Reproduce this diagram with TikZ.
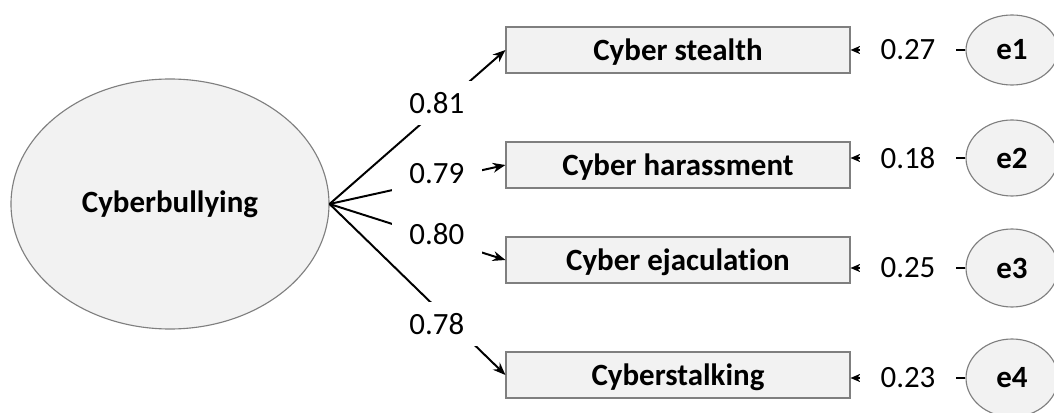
\documentclass[tikz,border=0pt]{standalone}
\usepackage{fontspec}
\setmainfont{Carlito}[Ligatures=NoCommon]
\usetikzlibrary{shapes.geometric, arrows, arrows.meta, positioning}

\definecolor{shade}{HTML}{F2F2F2}
\definecolor{edge}{HTML}{7F7F7F}

\begin{document}
\begin{tikzpicture}
        \tikzstyle{latent} = [ellipse, draw=edge, line width=0.8pt, fill=shade, text centered, font=\fontsize{22}{26}\selectfont\bfseries, inner sep=0pt]
        \tikzstyle{box} = [rectangle, draw=edge, line width=0.8pt, fill=shade, text centered, minimum height=1.15cm, minimum width=8.6cm, font=\fontsize{22}{26}\selectfont\bfseries, text depth=0pt]
        \tikzstyle{lab} = [fill=white, inner sep=0pt, minimum width=2.25cm, minimum height=1.1cm, font=\fontsize{22}{26}\selectfont]
        \tikzstyle{rlab} = [fill=white, inner sep=0pt, minimum width=2.4cm, minimum height=0.9cm, font=\fontsize{22}{26}\selectfont]
        \tikzstyle{arrow} = [line width=1.4pt,->,>={Stealth[length=9pt,width=7pt]}]
        \tikzstyle{rarrow} = [line width=1.1pt,->,>={Stealth[length=7pt,width=6pt]}]

        \useasboundingbox (0,0) rectangle (26.35,10.3);

        \node (cyber) [latent, minimum width=7.95cm, minimum height=6.25cm] at (4.25,5.2) {Cyberbullying};

        \node (stealth) [box] at (16.95,9.05) {Cyber stealth};
        \node (harass) [box] at (16.95,6.175) {Cyber harassment};
        \node (ejac) [box] at (16.95,3.8) {Cyber ejaculation};
        \node (stalk) [box] at (16.95,0.925) {Cyberstalking};

        \node (e1) [latent, minimum width=2.3cm, minimum height=1.75cm] at (25.3,9.05) {e1};
        \node (e2) [latent, minimum width=2.3cm, minimum height=1.9cm] at (25.3,6.35) {e2};
        \node (e3) [latent, minimum width=2.3cm, minimum height=1.95cm] at (25.3,3.6) {e3};
        \node (e4) [latent, minimum width=2.3cm, minimum height=1.95cm] at (25.3,0.85) {e4};

        \draw [arrow] (cyber.east) -- node[lab, pos=0.61, yshift=0.17cm] {0.81} (stealth.west);
        \draw [arrow] (cyber.east) -- node[lab, pos=0.61, yshift=0.17cm] {0.79} (harass.west);
        \draw [arrow] (cyber.east) -- node[lab, pos=0.61, yshift=0.11cm] {0.80} (ejac.west);
        \draw [arrow] (cyber.east) -- node[lab, pos=0.61, yshift=-0.4cm] {0.78} (stalk.west);

        \draw [rarrow] (e1.west) -- node[rlab, pos=0.5] {0.27} (stealth.east |- e1.west);
        \draw [rarrow] (e2.west) -- node[rlab, pos=0.5] {0.18} (harass.east |- e2.west);
        \draw [rarrow] (e3.west) -- node[rlab, pos=0.5] {0.25} (ejac.east |- e3.west);
        \draw [rarrow] (e4.west) -- node[rlab, pos=0.5] {0.23} (stalk.east |- e4.west);
    \end{tikzpicture}
\end{document}
